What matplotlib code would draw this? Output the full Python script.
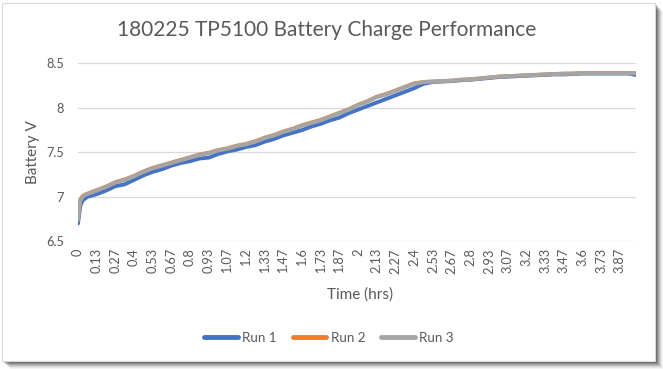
import matplotlib
matplotlib.use("Agg")
import matplotlib.pyplot as plt
from matplotlib.patches import Rectangle
from matplotlib.lines import Line2D

# ---- data (time in minutes, voltage in V) ----
time_min = [0, 1, 2, 3, 4, 8, 12, 16, 20, 24, 28, 32, 36, 40, 44, 48, 52, 56,
            60, 64, 68, 72, 76, 80, 84, 88, 92, 96, 100, 104, 108, 112, 116,
            120, 124, 128, 132, 136, 140, 144, 148, 152, 156, 160, 164, 168,
            172, 176, 180, 184, 188, 192, 196, 200, 204, 208, 212, 216, 220,
            224, 228, 232, 236, 239]

run1 = [6.70, 6.90, 6.96, 6.98, 7.00, 7.03, 7.07, 7.12, 7.14, 7.19, 7.24, 7.28,
        7.31, 7.35, 7.38, 7.40, 7.43, 7.44, 7.48, 7.51, 7.53, 7.56, 7.58, 7.62,
        7.65, 7.69, 7.72, 7.75, 7.79, 7.82, 7.86, 7.89, 7.94, 7.98, 8.02, 8.06,
        8.10, 8.14, 8.18, 8.22, 8.27, 8.29, 8.295, 8.30, 8.31, 8.315, 8.325,
        8.335, 8.345, 8.35, 8.355, 8.36, 8.365, 8.37, 8.375, 8.375, 8.38, 8.385,
        8.385, 8.385, 8.385, 8.385, 8.385, 8.37]

run2 = [6.75, 6.97, 7.01, 7.025, 7.035, 7.075, 7.115, 7.165, 7.195, 7.235, 7.285,
        7.325, 7.355, 7.385, 7.415, 7.445, 7.475, 7.495, 7.525, 7.545, 7.575,
        7.595, 7.625, 7.665, 7.695, 7.735, 7.765, 7.805, 7.835, 7.865, 7.905,
        7.945, 7.985, 8.035, 8.075, 8.125, 8.155, 8.195, 8.235, 8.275, 8.29,
        8.295, 8.30, 8.305, 8.315, 8.32, 8.33, 8.34, 8.35, 8.355, 8.36, 8.365,
        8.37, 8.375, 8.38, 8.385, 8.385, 8.39, 8.39, 8.39, 8.39, 8.39, 8.39, 8.39]

run3 = [6.74, 6.96, 7.00, 7.02, 7.03, 7.07, 7.11, 7.16, 7.19, 7.23, 7.28, 7.32,
        7.35, 7.38, 7.41, 7.44, 7.47, 7.49, 7.52, 7.54, 7.57, 7.59, 7.62, 7.66,
        7.69, 7.73, 7.76, 7.80, 7.83, 7.86, 7.90, 7.94, 7.98, 8.03, 8.07, 8.12,
        8.15, 8.19, 8.23, 8.27, 8.29, 8.295, 8.30, 8.305, 8.315, 8.32, 8.33,
        8.34, 8.35, 8.355, 8.36, 8.365, 8.37, 8.375, 8.38, 8.38, 8.385, 8.39,
        8.39, 8.39, 8.39, 8.39, 8.39, 8.39]

series_names = ["Run 1", "Run 2", "Run 3"]
series_colors = ["#4472C4", "#ED7D31", "#A5A5A5"]

tick_minutes = [0, 8, 16, 24, 32, 40, 48, 56, 64, 72, 80, 88, 96, 104, 112, 120,
                128, 136, 144, 152, 160, 168, 176, 184, 192, 200, 208, 216, 224, 232]
tick_labels = ["0", "0.13", "0.27", "0.4", "0.53", "0.67", "0.8", "0.93", "1.07",
               "1.2", "1.33", "1.47", "1.6", "1.73", "1.87", "2", "2.13", "2.27",
               "2.4", "2.53", "2.67", "2.8", "2.93", "3.07", "3.2", "3.33", "3.47",
               "3.6", "3.73", "3.87"]
y_ticks = [6.5, 7, 7.5, 8, 8.5]
y_tick_labels = ["6.5", "7", "7.5", "8", "8.5"]

# ---- figure ----
W, H = 663, 369
plt.rcParams['font.family'] = ['Lato', 'DejaVu Sans']
fig = plt.figure(figsize=(W / 100, H / 100), dpi=100)
fig.patch.set_facecolor("white")

def fx(px):
    return px / W

def fy(py):
    return 1 - py / H

# shadow + chart frame
for k, a in zip(range(8, 0, -1), [0.04, 0.06, 0.08, 0.10, 0.13, 0.16, 0.20, 0.25]):
    fig.patches.append(Rectangle((fx(2 + k), fy(361 + k)), fx(653), 358 / H,
                                 transform=fig.transFigure, facecolor="black",
                                 edgecolor="none", alpha=a, zorder=0))
fig.patches.append(Rectangle((fx(2), fy(361)), fx(653), 358 / H,
                             transform=fig.transFigure, facecolor="white",
                             edgecolor="#D9D9D9", linewidth=0.8, zorder=1))

ax = fig.add_axes([fx(78), fy(241.3), fx(636) - fx(78), (241.3 - 63.3) / H])
ax.set_facecolor("none")
ax.set_zorder(2)

for name, vals, col in zip(series_names, [run1, run2, run3], series_colors):
    ax.plot([m / 60 for m in time_min], vals, color=col, linewidth=2.8,
            solid_capstyle="round", solid_joinstyle="round", label=name)

ax.set_xlim(0, 239 / 60)
ax.set_ylim(6.5, 8.5)
ax.set_yticks(y_ticks)
ax.set_yticklabels(y_tick_labels)
ax.set_xticks([m / 60 for m in tick_minutes])
ax.set_xticklabels(tick_labels, rotation=90)
ax.tick_params(axis="both", length=0, colors="#595959", labelsize=9.2)
ax.tick_params(axis="y", pad=10)
ax.tick_params(axis="x", pad=5)
for s in ax.spines.values():
    s.set_visible(False)
ax.grid(axis="y", color="#D9D9D9", linewidth=0.9)
ax.set_axisbelow(True)

fig.text(fx(326.5), fy(30), "180225 TP5100 Battery Charge Performance",
         ha="center", va="center", fontsize=15, color="#595959")
fig.text(fx(360), fy(295), "Time (hrs)", ha="center", va="center",
         fontsize=11, color="#595959")
fig.text(fx(33), fy(152), "Battery V", ha="center", va="center",
         rotation=90, fontsize=11, color="#595959")

handles = [Line2D([], [], color=c, linewidth=3.5, solid_capstyle="round")
           for c in series_colors]
leg = fig.legend(handles, series_names, loc="center", bbox_to_anchor=(fx(329), fy(338)),
                 ncol=3, frameon=False, fontsize=9.6, handlelength=2.5,
                 handletextpad=0.35, columnspacing=1.2, labelcolor="#595959")

fig.savefig("out.png", dpi=100, facecolor="white")
